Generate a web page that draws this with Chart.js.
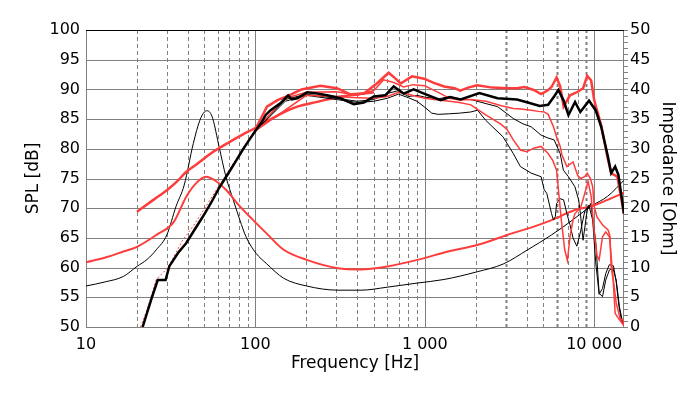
<!DOCTYPE html>
<html>
<head>
<meta charset="utf-8">
<script src="https://cdn.jsdelivr.net/npm/chart.js@4.4.1/dist/chart.umd.min.js"></script>
<style>
  body { margin: 0; background: #fff; }
  canvas { display: block; }
</style>
</head>
<body>
<canvas id="spl_chart" width="700" height="399"></canvas>
<script>
// on-axis response, black thick
const b1Freq = [21.6,23,24.5,26.5,29.5,31,35,39,44,49,55,61,70,77,84,92,101,108,115,123,141,150,156,164,177,202,232,265,318,381,437,500,585,655,750,860,990,1240,1410,1630,2100,2690,3500,4060,4770,5350,5800,6150,6580,7050,7710,8280,9320,10200,11000,12050,12600,13300,13900,15000];
const b1Spl = [50,52.5,55,57.9,57.9,60.2,62.5,64.1,66.5,68.6,71,73.4,76.1,78,79.8,81.5,83.2,84.3,85.7,86.5,87.7,88.5,89.0,88.3,88.5,89.5,89.3,89,88.5,87.5,87.8,88.8,89,90.5,89.3,90,89.3,88.2,88.7,88.3,89.4,88.5,88.3,87.8,87.2,87.4,88.8,89.9,88.2,85.7,87.9,86.2,88.1,86.5,83.7,78.7,75.9,77.0,75.6,69.1];

// red thick, top (thin dotted below 100 Hz)
const r1Freq = [21,23,26,30,33,37,43,49,57,65,75,85,100,117,135,153,187,242,303,362,437,521,612,655,720,840,990,1130,1300,1500,1620,1800,2040,2500,3070,3500,3880,4400,4860,5300,5600,6000,6300,6600,7200,8000,8600,9100,9600,10000,11000,12000,12600,13700,15000];
const r1Spl = [50,53,58,59.8,61.8,64.5,67,69.5,72.5,75,77.8,80.2,83.3,87.1,88.2,88.8,90,90.6,90.2,89.2,89.3,91,92.8,92.1,91,92.2,91.8,91.1,90.5,90.2,89.8,90.3,90.7,90.3,90.2,90.2,90.4,89.9,89.2,89.8,90.4,92.0,90.5,87.1,89.0,89.6,90.2,92.3,91.5,88.2,84,78.5,75.9,75.3,69];

// red thin curves
const r2Freq = [100,150,200,300,400,500,570,650,750,850,1000,1200,1400,1600,1870,2300,2800,3330,3700,4250,4700,5070,5350,5750,6000,6300,6450,6900,7500,8000,8300,8800,9100,9500,9800,10000,10400,11200,12100,12400,12600,12950,13300,13700,14300,15000];
const r2Spl = [83.3,88.5,89.5,89.6,89,89.8,91.6,91.2,90.4,90.8,90.6,89.5,88.5,88.2,88.3,88,87.3,86.8,86.7,86.5,86.3,86.2,85.8,83.7,82,80.4,79,77,77.8,75.5,75,75.3,75.9,75,73.6,70.3,68.5,67.2,66.3,65.2,60.2,57.9,52.3,51.7,51,50.2];

const r3Freq = [100,200,300,400,500,600,700,800,900,1000,1200,1400,1600,1870,2290,2800,3070,3330,3670,4000,4400,4860,5350,5700,6000,6150,6400,6700,6950,7200,7500,7700,8300,8800,9200,9600,10000,10400,10700,11200,11700,12300,12900,13500,14300,14800,15000];
const r3Spl = [83,89,88.8,88.6,88.5,88.8,89.5,89.2,88.8,88.5,88.2,88,87.8,87.4,85.7,84.2,83.2,81.5,79.8,79.5,80.1,80.4,79.2,78,76.4,73.1,68,63,61.2,65.2,68,69.1,70,72.5,74.5,72,66,62,61.3,65.2,66,65.2,58.5,54,51.2,51.2,50.2];

// black thin curves
const b2Freq = [100,150,200,300,400,500,600,700,800,900,1000,1200,1400,1600,1870,2300,2690,3330,3800,4250,4860,5350,5800,6300,6580,7050,7700,8100,8300,8600,9100,9550,10200,10700,11200,11700,12300,12900,13500,14100,14700,15000];
const b2Spl = [83,88.3,89.2,88.5,88,88.3,89.3,89.8,88.8,89,88.7,88.4,88.8,88.3,88.3,87.6,87.1,85.1,84.2,83.7,82.3,81.8,81.5,79.2,76.4,75.3,73.6,71.4,69,64.6,69.7,70.8,64.6,55.7,55.1,57.9,59.6,59.9,57.9,53.4,50.9,50.2];

const b3Freq = [100,150,200,300,400,500,600,700,800,900,1000,1100,1200,1400,1600,1870,2050,2290,2900,3330,3670,4250,4860,5070,5250,5600,5750,5900,6000,6300,6600,6900,7200,7500,7900,8300,8800,9300,9800,10200,10700,11200,11700,12300,13000,13500,14000,14500,15000];
const b3Spl = [83,88,89,88.3,87.8,88,88.5,89.2,88.6,88,87,86,85.8,85.9,86,86.2,86.5,84.8,82,79.2,77,75.9,75.3,73.1,72.5,69.1,68,68.6,70.8,71.6,71.4,69.1,67.2,65,63.6,66,69.5,70.5,68,61,55.5,56.5,59,60.5,60.3,57.5,53.5,51,50.3];

// smooth red response
const simFreq = [20,25,30.5,35,39,45,50,55,61,70,84,100,116,141,177,232,318,437,500];
const simSpl = [69.4,71.4,73.2,74.7,76.1,77.4,78.4,79.3,80.1,81.1,82.4,83.5,84.6,85.9,87.1,87.9,88.8,89.3,89.5];

// impedance curves, ohm
const zBlackFreq = [10,13,16.6,20,23,26,30,34,38,43,47,50,52,54,56,61,67,74,81,88,101,116,147,201,307,420,600,905,1300,2040,2900,4050,5600,7050,9550,12000,15000];
const zBlackOhm = [6.9,7.6,8.5,10.2,11.4,13,15.5,20.3,23.9,30.9,34.8,36.2,36.4,36.1,35.1,30.4,25.3,21.4,18,15.2,12.4,10.7,8.2,6.9,6.2,6.2,6.7,7.4,8,9.3,10.6,13,15.5,17.5,20.3,22,24.7];
const zRedFreq = [10,13,16.6,20,26,33,39,45,51,59,67,81,97,116,147,201,307,420,600,905,1410,2040,3070,4400,5600,7700,9550,12000,15000];
const zRedOhm = [10.9,11.7,12.7,13.5,15.5,17.7,21.9,24.3,25.3,24.5,23.1,20.3,18,15.8,13,11.3,9.9,9.7,10.2,11.3,12.8,13.8,15.5,16.9,18,19.7,20.3,21.4,22.6];

// axis ticks
const xTickValues = [10, 100, 1000, 10000];
const markerFreqs = [3000, 6000, 9000];

const RED = '#ff3c3c';
const FONT = 'DejaVu Sans';

function pts(freq, vals) {
    return freq.map((f, i) => ({ x: f, y: vals[i] }));
}

function line(data, color, width, axis, smooth) {
    return {
        data: data,
        borderColor: color,
        borderWidth: width,
        pointRadius: 0,
        fill: false,
        yAxisID: axis,
        tension: 0,
        cubicInterpolationMode: smooth ? 'monotone' : 'default',
    };
}

const gridPlugin = {
    id: 'grid',
    beforeDatasetsDraw(chart) {
        const { ctx, chartArea: a, scales } = chart;
        const x = scales.x, y = scales.y, y1 = scales.y1;
        ctx.save();
        ctx.strokeStyle = '#808080';
        ctx.lineWidth = 1;
        for (let v = 50; v <= 100; v += 5) {
            const py = Math.round(y.getPixelForValue(v)) + 0.5;
            ctx.beginPath();
            ctx.moveTo(a.left, py);
            ctx.lineTo(a.right, py);
            ctx.stroke();
        }
        for (let d = 10; d <= 10000; d *= 10) {
            for (let m = 1; m <= 9; m++) {
                const f = m * d;
                if (f > 15000) break;
                const px = Math.round(x.getPixelForValue(f)) + 0.5;
                ctx.beginPath();
                if (m === 1) {
                    ctx.setLineDash([]);
                    ctx.lineWidth = 1;
                } else if (markerFreqs.includes(f)) {
                    ctx.setLineDash([3, 3]);
                    ctx.lineWidth = 2;
                } else {
                    ctx.setLineDash([4, 3]);
                    ctx.lineWidth = 1;
                }
                ctx.moveTo(px, a.top);
                ctx.lineTo(px, a.bottom);
                ctx.stroke();
            }
        }
        ctx.setLineDash([]);
        ctx.lineWidth = 1;
        ctx.beginPath();
        ctx.moveTo(a.right - 0.5, a.top);
        ctx.lineTo(a.right - 0.5, a.bottom);
        for (let o = 0; o <= 50; o++) {
            const py = Math.round(y1.getPixelForValue(o)) + 0.5;
            ctx.moveTo(a.right, py);
            ctx.lineTo(a.right + 4, py);
        }
        ctx.stroke();
        ctx.strokeStyle = '#000';
        ctx.beginPath();
        ctx.moveTo(a.left, a.top + 0.5);
        ctx.lineTo(a.right, a.top + 0.5);
        ctx.stroke();
        ctx.restore();
    }
};

const r1Set = line(pts(r1Freq, r1Spl), RED, 2.5, 'y');
r1Set.segment = {
    borderWidth: c => c.p0.parsed.x < 100 ? 1 : 2.5,
    borderDash: c => c.p0.parsed.x < 100 ? [2, 2] : undefined
};

const ctx = document.getElementById('spl_chart').getContext('2d');
new Chart(ctx, {
    type: 'line',
    data: {
        datasets: [
            line(pts(b1Freq, b1Spl), '#000', 2.5, 'y'),
            r1Set,
            line(pts(r2Freq, r2Spl), RED, 1.5, 'y'),
            line(pts(r3Freq, r3Spl), RED, 1.5, 'y'),
            line(pts(b2Freq, b2Spl), '#000', 1, 'y'),
            line(pts(b3Freq, b3Spl), '#000', 1, 'y'),
            line(pts(simFreq, simSpl), RED, 2.5, 'y', true),
            line(pts(simFreq, simSpl), '#000', 1, 'y', true),
            line(pts(zRedFreq, zRedOhm), RED, 2, 'y1', true),
            line(pts(zBlackFreq, zBlackOhm), '#000', 1, 'y1', true),
        ]
    },
    options: {
        responsive: false,
        animation: false,
        layout: { padding: { top: 30, left: 0, right: 0, bottom: 0 } },
        plugins: {
            legend: { display: false },
            tooltip: { enabled: false }
        },
        scales: {
            x: {
                type: 'logarithmic',
                min: 10,
                max: 15000,
                afterBuildTicks: s => { s.ticks = xTickValues.map(v => ({ value: v })); },
                afterFit: s => { s.height = 72; },
                grid: { display: false, drawTicks: false },
                border: { display: false },
                ticks: {
                    autoSkip: false,
                    maxRotation: 0,
                    padding: 8,
                    color: '#000',
                    font: { family: FONT, size: 16 },
                    callback: v => String(v).replace(/\B(?=(\d{3})+(?!\d))/g, ' ')
                },
                title: {
                    display: true,
                    text: 'Frequency [Hz]',
                    color: '#000',
                    font: { family: FONT, size: 17 },
                    padding: { top: 0, bottom: 25 }
                }
            },
            y: {
                position: 'left',
                min: 50,
                max: 100,
                afterFit: s => { s.width = 86; },
                grid: { display: false, drawTicks: false },
                border: { display: false },
                ticks: {
                    stepSize: 5,
                    padding: 6,
                    color: '#000',
                    font: { family: FONT, size: 16 }
                },
                title: {
                    display: true,
                    text: 'SPL [dB]',
                    color: '#000',
                    font: { family: FONT, size: 17 },
                    padding: { top: 23, bottom: 0 }
                }
            },
            y1: {
                position: 'right',
                min: 0,
                max: 50,
                afterFit: s => { s.width = 76; },
                grid: { display: false, drawTicks: false },
                border: { display: false },
                ticks: {
                    stepSize: 5,
                    padding: 6,
                    color: '#000',
                    font: { family: FONT, size: 16 }
                },
                title: {
                    display: true,
                    text: 'Impedance [Ohm]',
                    color: '#000',
                    font: { family: FONT, size: 17 },
                    padding: { top: 22, bottom: 0 }
                }
            }
        }
    },
    plugins: [gridPlugin]
});
</script>
</body>
</html>
